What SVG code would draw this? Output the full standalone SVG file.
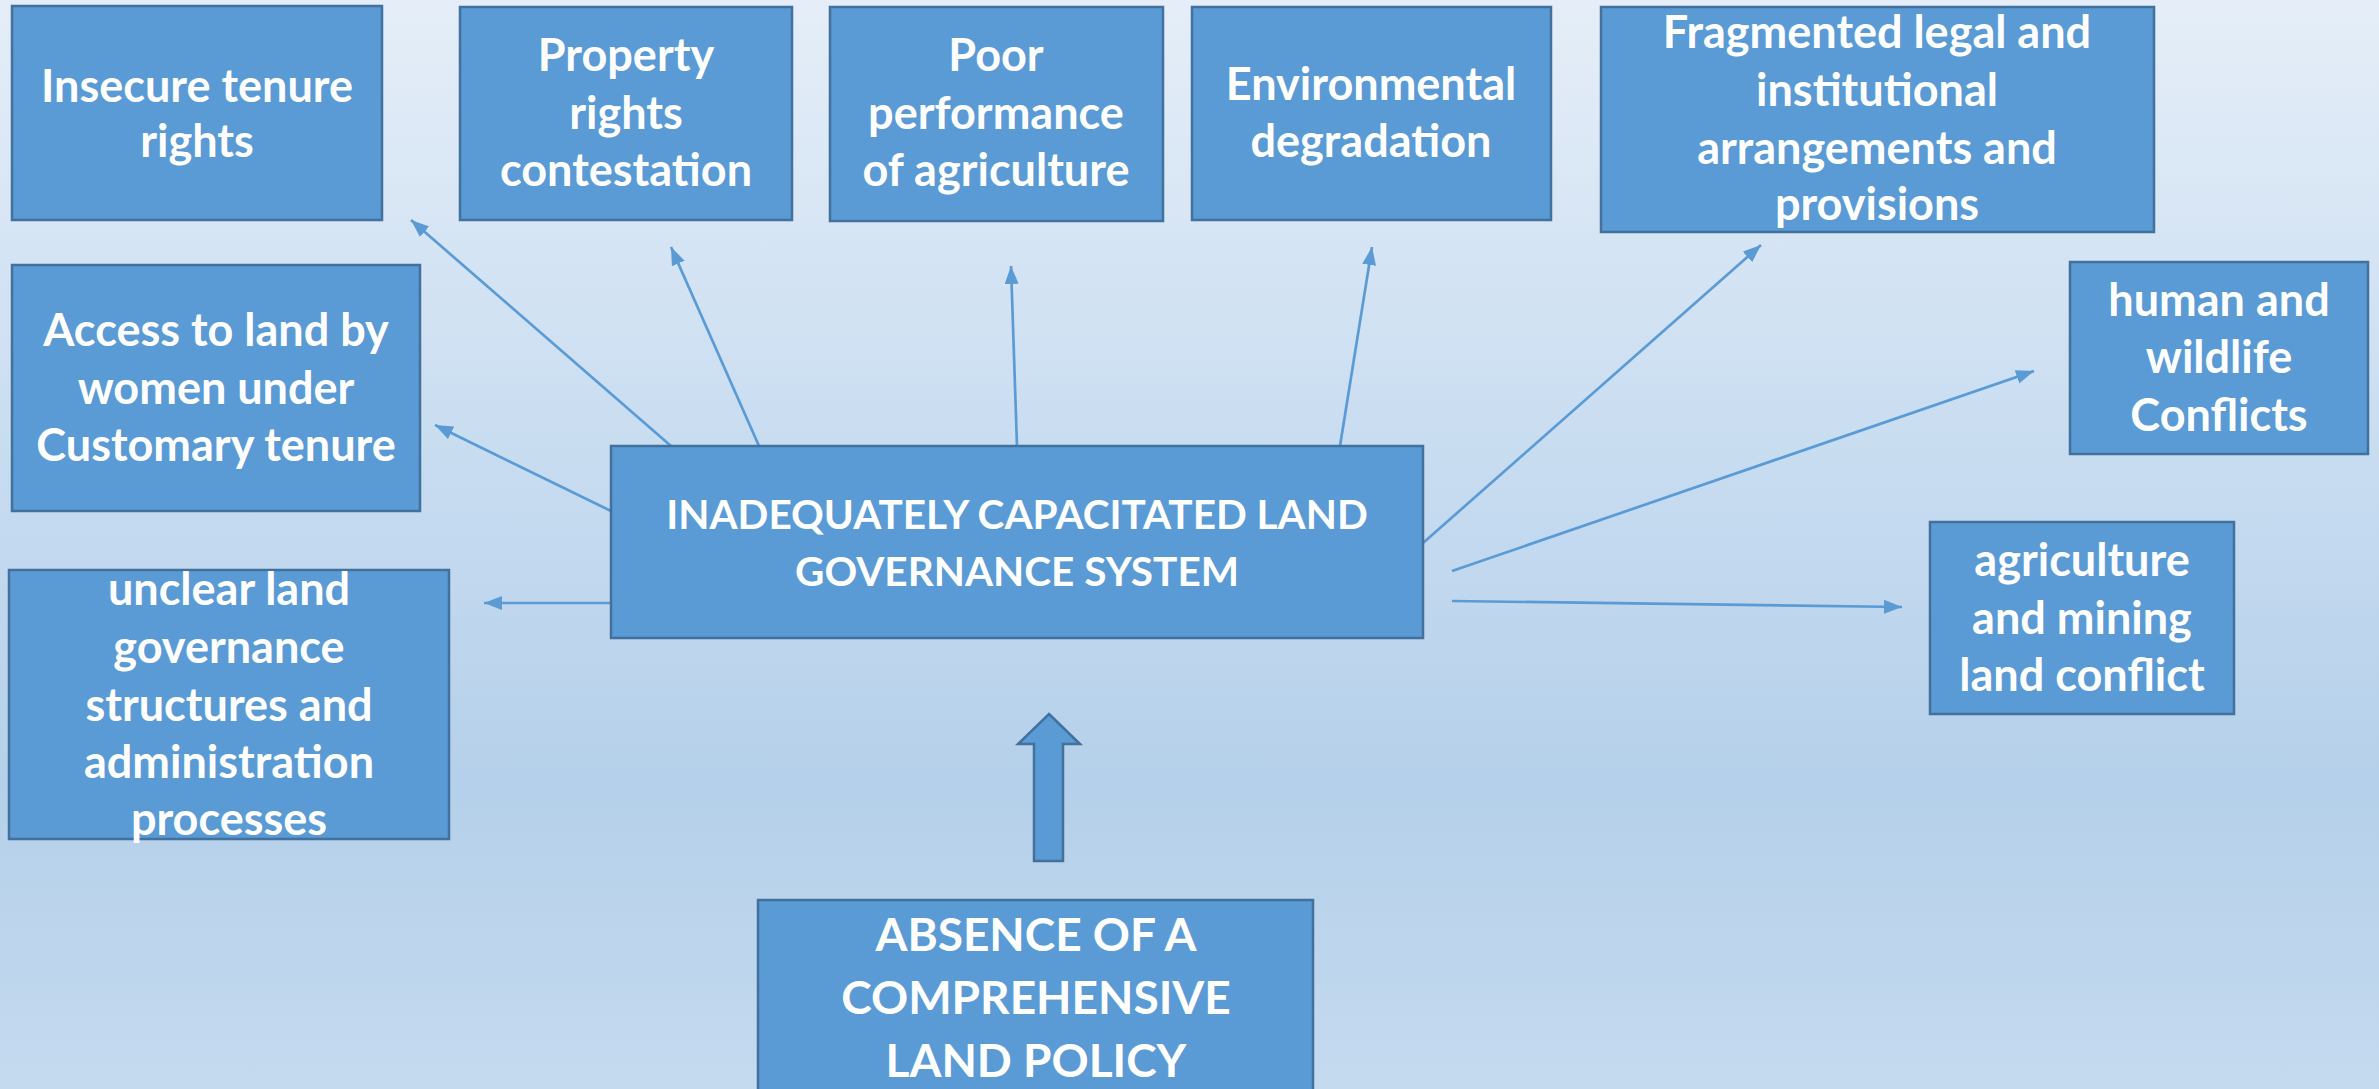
<svg xmlns="http://www.w3.org/2000/svg" width="2379" height="1089" viewBox="0 0 2379 1089">
<defs>
<linearGradient id="bg" x1="0" y1="0" x2="0" y2="1">
<stop offset="0" stop-color="#e5eef8"/>
<stop offset="0.45" stop-color="#c6dbf0"/>
<stop offset="0.72" stop-color="#b5d0ea"/>
<stop offset="1" stop-color="#c4daef"/>
</linearGradient>
<marker id="ah" markerUnits="userSpaceOnUse" markerWidth="20" markerHeight="15" refX="18" refY="7" orient="auto">
<path d="M0,0 L18,7 L0,14 z" fill="#5b9bd5"/>
</marker>
<style>
.box{fill:#5b9bd5;stroke:#41719c;stroke-width:2.5}
.t{fill:#ffffff;font-family:Lato,"Liberation Sans",Arial,sans-serif;font-weight:bold;font-size:45px;text-anchor:middle}
.tc{font-size:40.5px}
.ta{font-size:46px}
.c{stroke:#5b9bd5;stroke-width:2.7;fill:none;marker-end:url(#ah)}
</style>
</defs>
<rect x="0" y="0" width="2379" height="1089" fill="url(#bg)"/>
<g id="connectors">
<line class="c" x1="671" y1="446" x2="411" y2="220"/>
<line class="c" x1="759" y1="446" x2="671" y2="247"/>
<line class="c" x1="611" y1="511" x2="435" y2="425"/>
<line class="c" x1="611" y1="603" x2="484" y2="603"/>
<line class="c" x1="1017" y1="446" x2="1011" y2="266"/>
<line class="c" x1="1340" y1="446" x2="1372" y2="247"/>
<line class="c" x1="1423" y1="543" x2="1761" y2="245"/>
<line class="c" x1="1452" y1="571" x2="2034" y2="371"/>
<line class="c" x1="1452" y1="601" x2="1902" y2="607"/>
<polygon id="block-arrow" points="1049,714 1080,744 1063,744 1063,861 1034,861 1034,744 1018,744" fill="#5b9bd5" stroke="#41719c" stroke-width="2.5"/>
</g>
<g id="insecure">
<rect class="box" x="12" y="6" width="370" height="214"/>
<text class="t" x="197" y="102">Insecure tenure</text>
<text class="t" x="197" y="157">rights</text>
</g>
<g id="property">
<rect class="box" x="460" y="7" width="332" height="213"/>
<text class="t" x="626" y="71">Property</text>
<text class="t" x="626" y="129">rights</text>
<text class="t" x="626" y="186">contestation</text>
</g>
<g id="poor">
<rect class="box" x="830" y="7" width="333" height="214"/>
<text class="t" x="996" y="71">Poor</text>
<text class="t" x="996" y="129">performance</text>
<text class="t" x="996" y="186">of agriculture</text>
</g>
<g id="environmental">
<rect class="box" x="1192" y="7" width="359" height="213"/>
<text class="t" x="1371" y="100">Environmental</text>
<text class="t" x="1371" y="157">degradation</text>
</g>
<g id="fragmented">
<rect class="box" x="1601" y="7" width="553" height="225"/>
<text class="t" x="1877" y="48">Fragmented legal and</text>
<text class="t" x="1877" y="106">institutional</text>
<text class="t" x="1877" y="164">arrangements and</text>
<text class="t" x="1877" y="220">provisions</text>
</g>
<g id="access">
<rect class="box" x="12" y="265" width="408" height="246"/>
<text class="t" x="216" y="346">Access to land by</text>
<text class="t" x="216" y="404">women under</text>
<text class="t" x="216" y="461">Customary tenure</text>
</g>
<g id="human">
<rect class="box" x="2070" y="262" width="298" height="192"/>
<text class="t" x="2219" y="316">human and</text>
<text class="t" x="2219" y="373">wildlife</text>
<text class="t" x="2219" y="431">Conflicts</text>
</g>
<g id="agriculture-mining">
<rect class="box" x="1930" y="522" width="304" height="192"/>
<text class="t" x="2082" y="576">agriculture</text>
<text class="t" x="2082" y="634">and mining</text>
<text class="t" x="2082" y="691">land conflict</text>
</g>
<g id="unclear">
<rect class="box" x="9" y="570" width="440" height="269"/>
<text class="t" x="229" y="605">unclear land</text>
<text class="t" x="229" y="663">governance</text>
<text class="t" x="229" y="721">structures and</text>
<text class="t" x="229" y="778">administration</text>
<text class="t" x="229" y="835">processes</text>
</g>
<g id="center">
<rect class="box" x="611" y="446" width="812" height="192"/>
<text class="t tc" x="1017" y="529">INADEQUATELY CAPACITATED LAND</text>
<text class="t tc" x="1017" y="586">GOVERNANCE SYSTEM</text>
</g>
<g id="absence">
<rect class="box" x="758" y="900" width="555" height="200"/>
<text class="t ta" x="1036" y="951">ABSENCE OF A</text>
<text class="t ta" x="1036" y="1014">COMPREHENSIVE</text>
<text class="t ta" x="1036" y="1077">LAND POLICY</text>
</g>
</svg>
